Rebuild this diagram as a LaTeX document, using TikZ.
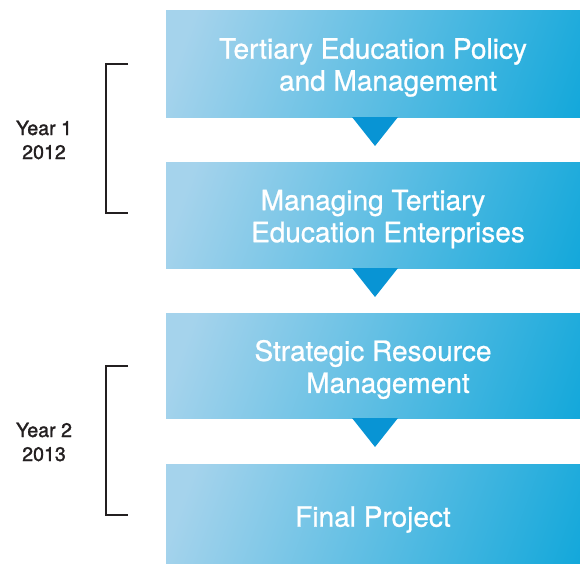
\documentclass[tikz,border=0pt]{standalone}
\usepackage{fontspec}
\setmainfont{TeX Gyre Heros}
\newfontfamily\medfont[FakeBold=0.8]{TeX Gyre Heros}
\newfontfamily\yrfont[FakeBold=1.6]{TeX Gyre Heros}
\definecolor{cLight}{HTML}{A5D3EC}
\definecolor{cEdge}{HTML}{86C8E8}
\definecolor{cDark}{HTML}{00A2D8}
\definecolor{cTri}{HTML}{0894D4}
\definecolor{cLine}{HTML}{231F20}
\pgfdeclarehorizontalshading{boxshade}{100bp}{color(0bp)=(cEdge); color(8bp)=(cLight); color(22bp)=(cLight); color(90bp)=(cDark); color(100bp)=(cDark)}
\begin{document}
\begin{tikzpicture}[x=0.75pt,y=-0.75pt,
  stepbox/.style={shading=boxshade, shading angle=-20, minimum width=414*0.75pt, inner sep=0pt, outer sep=0pt},
  steptext/.style={text=white, font=\fontsize{21}{24}\selectfont\medfont, align=center, inner sep=0pt},
  tri/.style={fill=cTri, draw=none},
  brk/.style={draw=cLine, line width=0.9pt},
  yearlab/.style={font=\fontsize{14.7}{18}\selectfont\yrfont, text=cLine, align=center, inner sep=0pt}]
\useasboundingbox (0,0) rectangle (580,564);
\node[stepbox, minimum height=107*0.75pt] (b1) at (373,63.5) {};
\node[stepbox, minimum height=106*0.75pt] (b2) at (373,215) {};
\node[stepbox, minimum height=105*0.75pt] (b3) at (373,365.5) {};
\node[stepbox, minimum height=99*0.75pt] (b4) at (373,513.5) {};
\node[steptext] (l1) at ([yshift=-3pt]b1.center) {Tertiary Education Policy\\\hspace*{22.5pt}and Management};
\node[steptext] (l2) at ([yshift=-3pt]b2.center) {Managing Tertiary\\\hspace*{22.5pt}Education Enterprises};
\node[steptext] (l3) at ([yshift=-3pt]b3.center) {Strategic Resource\\\hspace*{22.5pt}Management};
\node[steptext] (l4) at ([yshift=-4.5pt]b4.center) {Final Project};
\coordinate (t1) at (375,146);
\coordinate (t2) at (375,297);
\coordinate (t3) at (375,447);
\fill[tri] ([xshift=-23*0.75pt]t1 |- b1.south) -- ([xshift=23*0.75pt]t1 |- b1.south) -- (t1) -- cycle;
\fill[tri] ([xshift=-23*0.75pt]t2 |- b2.south) -- ([xshift=23*0.75pt]t2 |- b2.south) -- (t2) -- cycle;
\fill[tri] ([xshift=-23*0.75pt]t3 |- b3.south) -- ([xshift=23*0.75pt]t3 |- b3.south) -- (t3) -- cycle;
\coordinate (k1a) at (128,64);
\coordinate (k1b) at (128,213);
\coordinate (k2a) at (128,366);
\coordinate (k2b) at (128,515);
\draw[brk] (k1a) -- ++(-22,0) |- (k1b);
\draw[brk] (k2a) -- ++(-22,0) |- (k2b);
\node[yearlab] (y1) at (44,140) {Year 1\\2012};
\node[yearlab] (y2) at (44,442) {Year 2\\2013};
\end{tikzpicture}
\end{document}
